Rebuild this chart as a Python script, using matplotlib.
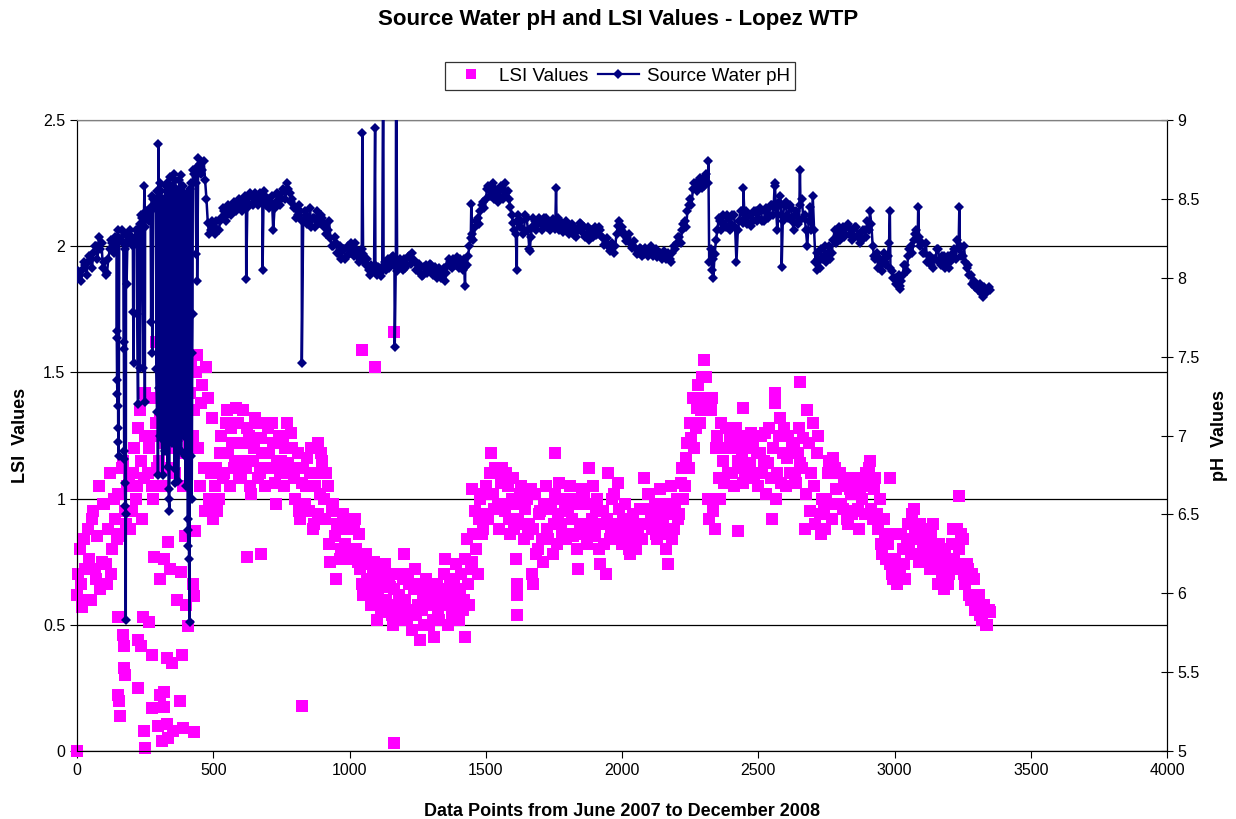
import numpy as np
import matplotlib
matplotlib.use('Agg')
import matplotlib.pyplot as plt
from matplotlib.lines import Line2D
from matplotlib.ticker import FormatStrFormatter, MultipleLocator

plt.rcParams['font.family'] = ['Liberation Sans', 'DejaVu Sans']

# ---------------------------------------------------------------------
# data: readings every 5 data points (two interleaved
# lists, "a" at 0,10,20.. and "b" at 5,15,25..) plus stray outliers
# ---------------------------------------------------------------------
STEP = 10
lsi_a = [
    0.62, 0.80, 0.57, 0.72, 0.88, 0.60, 0.95, 0.68, 1.05, 0.75,   # 0
    0.98, 0.66, 1.10, 0.80, 0.92, 1.02, 0.85, 1.15, 0.90, 1.08,   # 100
    0.95, 1.20, 1.05, 1.35, 0.92, 1.25, 1.10, 1.40, 1.00, 1.30,   # 200
    1.15, 1.42, 1.05, 1.30, 1.20, 1.45, 1.10, 1.35, 1.25, 1.05,   # 300
    1.48, 1.20, 1.55, 1.35, 1.57, 1.05, 1.45, 0.95, 1.40, 1.10,   # 400
    0.92, 1.12, 1.00, 1.25, 1.10, 1.35, 1.05, 1.22, 1.15, 1.30,   # 500
    1.08, 1.35, 1.12, 1.25, 1.02, 1.20, 1.30, 1.10, 1.18, 1.05,   # 600
    1.28, 1.12, 1.22, 0.98, 1.25, 1.15, 1.05, 1.30, 1.10, 1.20,   # 700
    1.00, 1.18, 0.92, 1.12, 1.05, 0.95, 1.20, 0.90, 1.10, 1.02,   # 800
    1.15, 0.92, 1.05, 0.75, 0.98, 0.68, 0.88, 0.80, 0.92, 0.76,   # 900
    0.88, 0.78, 0.92, 0.75, 0.72, 0.62, 0.78, 0.66, 0.58, 0.75,   # 1000
    0.52, 0.68, 0.60, 0.74, 0.55, 0.65, 0.50, 0.70, 0.62, 0.56,   # 1100
    0.78, 0.52, 0.66, 0.48, 0.72, 0.58, 0.44, 0.62, 0.68, 0.50,   # 1200
    0.60, 0.45, 0.66, 0.52, 0.58, 0.76, 0.50, 0.68, 0.56, 0.74,   # 1300
    0.52, 0.70, 0.60, 0.84, 0.58, 0.75, 0.95, 0.70, 1.00, 0.88,   # 1400
    1.05, 0.92, 1.18, 0.96, 1.10, 0.88, 1.12, 0.95, 1.05, 0.86,   # 1500
    1.08, 0.76, 0.92, 1.05, 0.84, 1.00, 0.90, 0.70, 1.02, 0.80,   # 1600
    0.95, 0.75, 1.05, 0.84, 0.98, 0.90, 0.82, 1.06, 0.86, 0.98,   # 1700
    0.95, 1.05, 0.85, 0.98, 0.72, 0.90, 1.02, 0.82, 1.12, 0.92,   # 1800
    0.85, 1.00, 0.74, 0.95, 0.70, 1.10, 0.88, 1.02, 0.84, 0.96,   # 1900
    0.82, 0.98, 0.90, 0.78, 0.94, 0.80, 0.86, 0.96, 1.08, 0.90,   # 2000
    1.02, 0.88, 0.98, 0.84, 1.04, 0.92, 0.80, 0.74, 1.05, 0.88,   # 2100
    1.00, 0.94, 1.12, 1.05, 1.22, 1.30, 1.40, 1.28, 1.45, 1.35,   # 2200
    1.55, 1.48, 0.92, 1.40, 0.88, 1.25, 1.00, 1.15, 1.28, 1.10,   # 2300
    1.20, 1.05, 1.28, 1.12, 1.18, 1.08, 1.25, 1.14, 1.22, 1.10,   # 2400
    1.05, 1.25, 1.15, 1.02, 1.28, 0.92, 1.38, 1.10, 1.32, 1.18,   # 2500
    1.05, 1.25, 1.10, 1.20, 1.06, 1.28, 1.12, 0.88, 1.35, 0.95,   # 2600
    1.30, 0.90, 1.25, 0.86, 0.95, 1.00, 1.15, 0.92, 1.12, 0.98,   # 2700
    1.10, 0.96, 1.05, 0.90, 1.02, 0.95, 1.06, 0.88, 1.00, 0.94,   # 2800
    1.05, 1.15, 0.92, 1.08, 0.88, 0.82, 0.92, 0.76, 0.86, 0.70,   # 2900
    0.76, 0.66, 0.72, 0.80, 0.68, 0.90, 0.78, 0.96, 0.84, 0.75,   # 3000
    0.88, 0.76, 0.84, 0.72, 0.90, 0.80, 0.66, 0.78, 0.64, 0.74,   # 3100
    0.70, 0.82, 0.76, 0.88, 0.74, 0.84, 0.66, 0.72, 0.60, 0.68,   # 3200
    0.56, 0.62, 0.52, 0.58, 0.50, 0.55,                           # 3300
]
lsi_b = [
    0.70, 0.66, 0.84, 0.60, 0.76, 0.92, 0.72, 0.85, 0.64, 0.98,   # 5
    0.74, 0.88, 0.70, 1.00, 0.84, 0.86, 1.12, 0.95, 1.05, 0.88,   # 105
    1.10, 1.00, 1.28, 1.15, 1.08, 1.40, 1.20, 1.05, 1.25, 1.12,   # 205
    1.32, 1.22, 1.38, 1.12, 1.40, 1.28, 1.46, 1.18, 1.40, 1.30,   # 305
    1.30, 1.42, 1.25, 1.50, 1.20, 1.38, 1.12, 1.52, 1.00, 1.32,   # 405
    1.05, 0.95, 1.18, 1.08, 1.30, 1.18, 1.28, 1.12, 1.36, 1.08,   # 505
    1.22, 1.15, 1.28, 1.05, 1.15, 1.32, 1.08, 1.24, 1.12, 1.30,   # 605
    1.18, 1.30, 1.06, 1.15, 1.10, 1.25, 1.20, 1.14, 1.26, 1.08,   # 705
    1.12, 0.95, 1.06, 0.98, 1.16, 1.10, 0.88, 1.05, 0.94, 1.18,   # 805
    1.00, 1.10, 0.82, 0.95, 0.85, 0.90, 0.76, 0.94, 0.82, 0.88,   # 905
    0.76, 0.90, 0.80, 0.86, 0.66, 0.76, 0.68, 0.74, 0.70, 0.62,   # 1005
    0.64, 0.56, 0.72, 0.60, 0.68, 0.54, 0.64, 0.58, 0.52, 0.68,   # 1105
    0.60, 0.70, 0.56, 0.64, 0.54, 0.66, 0.56, 0.50, 0.58, 0.64,   # 1205
    0.52, 0.62, 0.56, 0.62, 0.70, 0.60, 0.64, 0.54, 0.66, 0.60,   # 1305
    0.64, 0.56, 0.76, 0.66, 0.72, 0.86, 0.80, 0.92, 0.86, 1.02,   # 1405
    0.94, 1.10, 1.02, 1.12, 0.98, 1.06, 0.98, 1.10, 0.92, 1.00,   # 1505
    0.88, 0.98, 1.02, 0.90, 0.96, 0.86, 1.04, 0.88, 0.78, 0.94,   # 1605
    0.84, 0.98, 0.88, 0.96, 0.78, 1.02, 0.94, 0.90, 1.00, 0.84,   # 1705
    0.86, 0.92, 1.00, 0.80, 0.88, 1.04, 0.86, 0.98, 0.88, 1.05,   # 1805
    0.96, 0.80, 0.90, 0.82, 0.92, 0.84, 1.00, 0.90, 1.06, 0.88,   # 1905
    0.92, 0.86, 0.80, 0.92, 0.84, 0.90, 0.96, 0.84, 0.96, 1.02,   # 2005
    0.92, 0.96, 0.86, 0.94, 0.88, 0.98, 0.86, 0.94, 0.84, 0.98,   # 2105
    0.92, 1.06, 1.00, 1.16, 1.12, 1.24, 1.20, 1.36, 1.30, 1.48,   # 2205
    1.40, 1.00, 1.35, 0.95, 1.20, 1.08, 1.30, 1.06, 1.20, 1.24,   # 2305
    1.10, 1.22, 1.15, 1.24, 1.06, 1.20, 1.12, 1.26, 1.08, 1.18,   # 2405
    1.18, 1.10, 1.26, 1.14, 1.08, 1.20, 1.00, 1.25, 1.06, 1.28,   # 2505
    1.16, 1.10, 1.22, 1.08, 1.18, 1.14, 1.24, 1.02, 1.22, 1.10,   # 2605
    1.05, 1.18, 0.94, 1.00, 0.88, 1.10, 0.98, 1.16, 1.04, 1.10,   # 2705
    0.98, 1.08, 0.92, 1.04, 0.94, 1.08, 0.96, 1.02, 1.06, 1.10,   # 2805
    1.12, 0.96, 1.04, 0.94, 1.00, 0.78, 0.86, 0.82, 0.74, 0.68,   # 2905
    0.68, 0.74, 0.86, 0.74, 0.84, 0.80, 0.94, 0.86, 0.78, 0.90,   # 3005
    0.80, 0.88, 0.78, 0.86, 0.76, 0.72, 0.82, 0.70, 0.80, 0.66,   # 3105
    0.76, 0.88, 0.72, 0.80, 0.86, 0.70, 0.74, 0.62, 0.70, 0.56,   # 3205
    0.60, 0.54, 0.58, 0.50, 0.56,                                 # 3305
]
lsi_out_x = [0, 149, 170, 173, 172, 175, 152, 154, 158, 243, 264, 223, 234,
             276, 329, 347, 384, 225, 305, 320, 321, 277, 378, 247, 298, 330,
             353, 388, 429, 311, 335, 248, 335, 284, 320, 305, 341, 382, 366,
             400, 427, 428, 409, 396, 433, 250, 290, 625, 674, 824, 884, 1045,
             1094, 1163, 1164, 1448, 1755, 1424, 1616, 1614, 1613, 1674, 2427,
             2445, 2561, 2653, 2984, 3237]
lsi_out_y = [0.0, 0.53, 0.46, 0.415, 0.33, 0.30, 0.22, 0.20, 0.14, 0.53, 0.51,
             0.44, 0.415, 0.38, 0.37, 0.35, 0.38, 0.25, 0.22, 0.235, 0.175, 0.17,
             0.20, 0.08, 0.10, 0.105, 0.08, 0.09, 0.075, 0.04, 0.05, 0.01, 0.83,
             0.77, 0.76, 0.68, 0.72, 0.71, 0.60, 0.58, 0.66, 0.615, 0.495, 0.85,
             0.87, 1.42, 1.62, 0.77, 0.78, 0.18, 1.22, 1.59, 1.52, 1.66, 0.03,
             1.04, 1.18, 0.45, 0.54, 0.62, 0.66, 0.66, 0.87, 1.36, 1.42, 1.46,
             1.08, 1.01]

ph_a = [
    7.99, 8.02, 8.05, 8.08, 8.10, 8.12, 8.16, 8.20, 8.26, 8.22,   # 0
    8.10, 8.03, 8.18, 8.22, 8.26, 8.30, 8.24, 8.22, 8.27, 8.24,   # 100
    8.26, 8.22, 8.30, 8.34, 8.38, 8.32, 8.40, 8.45, 8.50, 8.48,   # 200
    8.52, 8.55, 8.50, 8.60, 8.64, 8.58, 8.62, 8.55, 8.65, 8.58,   # 300
    8.50, 8.48, 8.60, 8.66, 8.70, 8.72, 8.68, 8.62, 8.35, 8.30,   # 400
    8.32, 8.36, 8.30, 8.38, 8.42, 8.40, 8.45, 8.42, 8.47, 8.44,   # 500
    8.48, 8.45, 8.50, 8.46, 8.52, 8.48, 8.50, 8.54, 8.48, 8.52,   # 600
    8.50, 8.46, 8.30, 8.48, 8.52, 8.50, 8.55, 8.60, 8.54, 8.50,   # 700
    8.45, 8.40, 8.42, 8.36, 8.40, 8.38, 8.32, 8.38, 8.42, 8.35,   # 800
    8.38, 8.34, 8.30, 8.25, 8.20, 8.22, 8.15, 8.12, 8.18, 8.14,   # 900
    8.16, 8.20, 8.22, 8.16, 8.12, 8.15, 8.08, 8.05, 8.08, 8.04,   # 1000
    8.02, 8.06, 8.04, 8.10, 8.12, 8.08, 8.14, 8.10, 8.06, 8.10,   # 1100
    8.12, 8.08, 8.14, 8.16, 8.10, 8.04, 8.06, 8.02, 8.08, 8.05,   # 1200
    8.08, 8.04, 8.00, 8.06, 8.02, 7.98, 8.08, 8.10, 8.12, 8.08,   # 1300
    8.06, 8.10, 8.12, 8.08, 8.20, 8.28, 8.32, 8.38, 8.42, 8.48,   # 1400
    8.50, 8.58, 8.55, 8.50, 8.54, 8.52, 8.56, 8.60, 8.55, 8.45,   # 1500
    8.35, 8.28, 8.40, 8.36, 8.30, 8.38, 8.18, 8.32, 8.36, 8.34,   # 1600
    8.36, 8.33, 8.38, 8.35, 8.32, 8.36, 8.34, 8.30, 8.35, 8.32,   # 1700
    8.34, 8.30, 8.32, 8.26, 8.30, 8.34, 8.32, 8.28, 8.24, 8.30,   # 1800
    8.32, 8.28, 8.30, 8.25, 8.22, 8.20, 8.18, 8.16, 8.28, 8.36,   # 1900
    8.32, 8.28, 8.25, 8.22, 8.20, 8.18, 8.16, 8.18, 8.15, 8.17,   # 2000
    8.16, 8.18, 8.15, 8.13, 8.16, 8.14, 8.12, 8.16, 8.10, 8.20,   # 2100
    8.22, 8.26, 8.30, 8.36, 8.42, 8.50, 8.56, 8.60, 8.58, 8.62,   # 2200
    8.58, 8.66, 8.10, 8.05, 8.15, 8.30, 8.36, 8.40, 8.32, 8.38,   # 2300
    8.34, 8.40, 8.10, 8.36, 8.42, 8.38, 8.34, 8.40, 8.36, 8.42,   # 2400
    8.38, 8.42, 8.36, 8.44, 8.40, 8.46, 8.58, 8.30, 8.52, 8.36,   # 2500
    8.48, 8.38, 8.44, 8.30, 8.42, 8.36, 8.50, 8.40, 8.20, 8.45,   # 2600
    8.52, 8.10, 8.12, 8.18, 8.14, 8.10, 8.20, 8.16, 8.30, 8.26,   # 2700
    8.24, 8.32, 8.28, 8.34, 8.30, 8.26, 8.32, 8.28, 8.24, 8.30,   # 2800
    8.36, 8.42, 8.20, 8.12, 8.06, 8.10, 8.16, 8.08, 8.22, 8.04,   # 2900
    8.00, 7.98, 7.95, 8.02, 8.08, 8.14, 8.20, 8.24, 8.30, 8.26,   # 3000
    8.22, 8.16, 8.10, 8.14, 8.06, 8.12, 8.18, 8.08, 8.14, 8.10,   # 3100
    8.06, 8.12, 8.18, 8.24, 8.20, 8.14, 8.10, 8.08, 8.02, 7.98,   # 3200
    7.95, 7.92, 7.90, 7.94, 7.91, 7.92,                           # 3300
]
ph_b = [
    8.04, 7.98, 8.10, 8.02, 8.14, 8.06, 8.20, 8.12, 8.18, 8.06,   # 5
    8.02, 8.12, 8.24, 8.16, 8.22, 8.25, 8.30, 8.18, 8.22, 8.30,   # 105
    8.20, 8.30, 8.26, 8.40, 8.32, 8.42, 8.36, 8.52, 8.44, 8.55,   # 205
    8.60, 8.48, 8.58, 8.55, 8.58, 8.66, 8.56, 8.62, 8.58, 8.52,   # 305
    8.54, 8.56, 8.68, 8.60, 8.76, 8.66, 8.74, 8.50, 8.28, 8.36,   # 405
    8.28, 8.30, 8.36, 8.44, 8.36, 8.46, 8.40, 8.48, 8.42, 8.50,   # 505
    8.42, 8.52, 8.44, 8.54, 8.46, 8.54, 8.46, 8.50, 8.55, 8.46,   # 605
    8.44, 8.52, 8.44, 8.54, 8.46, 8.56, 8.50, 8.56, 8.48, 8.44,   # 705
    8.38, 8.46, 8.36, 8.42, 8.34, 8.44, 8.38, 8.32, 8.36, 8.40,   # 805
    8.32, 8.28, 8.36, 8.20, 8.26, 8.16, 8.20, 8.18, 8.12, 8.20,   # 905
    8.22, 8.14, 8.18, 8.10, 8.18, 8.10, 8.12, 8.02, 8.04, 8.08,   # 1005
    8.07, 8.01, 8.08, 8.05, 8.06, 8.13, 8.08, 8.04, 8.12, 8.05,   # 1105
    8.06, 8.13, 8.09, 8.11, 8.05, 8.09, 8.01, 8.07, 8.03, 8.09,   # 1205
    8.02, 8.07, 8.04, 8.00, 8.06, 8.03, 8.12, 8.06, 8.08, 8.13,   # 1305
    8.12, 8.05, 8.07, 8.14, 8.25, 8.24, 8.36, 8.34, 8.46, 8.44,   # 1405
    8.56, 8.52, 8.60, 8.56, 8.48, 8.58, 8.50, 8.54, 8.50, 8.40,   # 1505
    8.30, 8.36, 8.32, 8.28, 8.40, 8.30, 8.26, 8.38, 8.30, 8.38,   # 1605
    8.30, 8.38, 8.32, 8.30, 8.37, 8.31, 8.38, 8.34, 8.29, 8.36,   # 1705
    8.28, 8.34, 8.27, 8.31, 8.35, 8.29, 8.26, 8.32, 8.29, 8.26,   # 1805
    8.27, 8.32, 8.26, 8.21, 8.25, 8.17, 8.22, 8.20, 8.33, 8.30,   # 1905
    8.28, 8.23, 8.28, 8.19, 8.23, 8.15, 8.19, 8.14, 8.19, 8.14,   # 2005
    8.20, 8.14, 8.18, 8.16, 8.12, 8.17, 8.15, 8.12, 8.16, 8.18,   # 2105
    8.26, 8.22, 8.34, 8.32, 8.46, 8.46, 8.60, 8.55, 8.63, 8.57,   # 2205
    8.64, 8.60, 8.18, 8.12, 8.24, 8.38, 8.30, 8.34, 8.40, 8.30,   # 2305
    8.40, 8.32, 8.30, 8.42, 8.35, 8.42, 8.40, 8.33, 8.42, 8.36,   # 2405
    8.44, 8.36, 8.42, 8.38, 8.46, 8.40, 8.44, 8.48, 8.40, 8.46,   # 2505
    8.40, 8.46, 8.36, 8.40, 8.34, 8.46, 8.38, 8.30, 8.36, 8.30,   # 2605
    8.30, 8.16, 8.06, 8.12, 8.20, 8.16, 8.12, 8.24, 8.22, 8.32,   # 2705
    8.30, 8.26, 8.33, 8.27, 8.24, 8.32, 8.26, 8.22, 8.30, 8.26,   # 2805
    8.30, 8.34, 8.14, 8.16, 8.12, 8.04, 8.10, 8.14, 8.06, 8.00,   # 2905
    7.96, 8.02, 7.98, 8.08, 8.04, 8.18, 8.16, 8.28, 8.24, 8.20,   # 3005
    8.16, 8.22, 8.14, 8.08, 8.12, 8.18, 8.10, 8.14, 8.06, 8.14,   # 3105
    8.10, 8.16, 8.12, 8.18, 8.14, 8.20, 8.06, 8.02, 7.96, 7.94,   # 3205
    7.92, 7.96, 7.88, 7.92, 7.94,                                 # 3305
]
# single pH readings that jump away from the daily band
ph_spike_x = [145, 146, 147, 148, 149, 151, 152, 153,
              171, 172, 173, 174, 176, 177, 178, 179, 182,
              206, 208, 221, 224, 231, 244, 249, 272, 276,
              291, 294, 297, 301, 304, 311, 314, 318, 322, 326,
              333, 336, 337, 339, 344, 348, 352, 358, 361, 366,
              371, 373, 378, 382, 386, 391, 394, 397, 399,
              406, 407, 409, 411, 413, 419, 421, 423, 424, 438, 441,
              247.5, 298.5, 621, 681, 825, 1047, 1094, 1124, 1166, 1171,
              1424, 1447, 1614, 1662, 1758, 2317, 2335, 2445, 2561, 2586,
              2653, 2714, 2983, 3021, 3087, 3238]
ph_spike_y = [7.66, 7.62, 7.35, 7.26, 7.19, 7.05, 6.96, 6.87,
              7.59, 7.55, 6.90, 6.85, 6.70, 6.55, 6.50, 5.83, 7.96,
              7.78, 7.46, 7.77, 7.20, 7.43, 7.43, 7.21, 7.72, 7.52,
              7.42, 7.15, 6.75, 7.30, 7.00, 6.98, 6.75, 7.20, 6.90, 7.40,
              6.80, 6.66, 6.60, 6.52, 7.10, 6.95, 7.30, 6.79, 6.70, 7.20,
              6.71, 7.05, 7.10, 6.90, 7.35, 7.00, 7.01, 6.87, 6.68,
              6.47, 6.40, 6.30, 6.22, 5.82, 6.87, 6.60, 7.52, 7.77, 8.15, 7.98,
              8.58, 8.85, 7.99, 8.05, 7.46, 8.92, 8.95, 9.60, 7.56, 9.60,
              7.95, 8.47, 8.05, 8.17, 8.57, 8.74, 8.00, 8.57, 8.60, 8.07,
              8.68, 8.05, 8.42, 7.93, 8.45, 8.45]

# ---------------------------------------------------------------------
lx = np.concatenate([np.arange(len(lsi_a)) * STEP,
                     np.arange(len(lsi_b)) * STEP + STEP / 2, lsi_out_x])
ly = np.concatenate([lsi_a, lsi_b, lsi_out_y])

px_all = np.concatenate([np.arange(len(ph_a)) * STEP,
                         np.arange(len(ph_b)) * STEP + STEP / 2, ph_spike_x])
py_all = np.concatenate([ph_a, ph_b, ph_spike_y])
order = np.argsort(px_all, kind='stable')
px_all, py_all = px_all[order], py_all[order]

MAGENTA = '#FF00FF'
NAVY = '#000080'

fig = plt.figure(figsize=(12.36, 8.19), dpi=100)
fig.subplots_adjust(left=77/1236, right=1167/1236, top=1-120/819, bottom=1-751/819)
ax = fig.add_subplot(111)

ax.plot(lx, ly, linestyle='none', marker='s', markersize=8, color=MAGENTA,
        markeredgewidth=0, clip_on=False, zorder=3)
ax.set_xlim(0, 4000)
ax.set_ylim(0, 2.5)
ax.xaxis.set_major_locator(MultipleLocator(500))
ax.yaxis.set_major_locator(MultipleLocator(0.5))
ax.yaxis.set_major_formatter(FormatStrFormatter('%g'))
ax.grid(axis='y', color='black', linewidth=0.9)
ax.set_axisbelow(True)
ax.tick_params(direction='out', length=5, labelsize=11.5, colors='black')
ax.set_xlabel('Data Points from June 2007 to December 2008', fontsize=13,
              fontweight='bold', labelpad=18)
ax.set_ylabel('LSI  Values', fontsize=13, fontweight='bold', labelpad=10)
for s in ['left', 'bottom', 'right']:
    ax.spines[s].set_color('black')
ax.spines['top'].set_color('#808080')

ax2 = ax.twinx()
ax2.plot(px_all, py_all, color=NAVY, linewidth=1.8, marker='D', markersize=5,
         markeredgewidth=0, zorder=4)
ax2.set_ylim(5, 9)
ax2.yaxis.set_major_locator(MultipleLocator(0.5))
ax2.yaxis.set_major_formatter(FormatStrFormatter('%g'))
ax2.tick_params(direction='inout', length=8, labelsize=11.5, colors='black')
ax2.set_ylabel('pH  Values', fontsize=13, fontweight='bold', labelpad=8)
ax2.spines['top'].set_color('#808080')

fig.suptitle('Source Water pH and LSI Values - Lopez WTP', fontsize=16,
             fontweight='bold', y=1-19/819, va='center')

handles = [
    Line2D([], [], linestyle='none', marker='s', markersize=7.5, color=MAGENTA,
           markeredgewidth=0),
    Line2D([], [], color=NAVY, linewidth=1.6, marker='D', markersize=5,
           markeredgewidth=0),
]
leg = fig.legend(handles, ['LSI Values', 'Source Water pH'], ncol=2,
                 loc='center', bbox_to_anchor=(620/1236, 1-76/819),
                 fontsize=13.5, frameon=True, fancybox=False, edgecolor='black',
                 handlelength=2.2, handletextpad=0.4, columnspacing=0.5,
                 borderpad=0.3)
leg.get_frame().set_linewidth(0.9)

plt.savefig('out.png', dpi=100)
